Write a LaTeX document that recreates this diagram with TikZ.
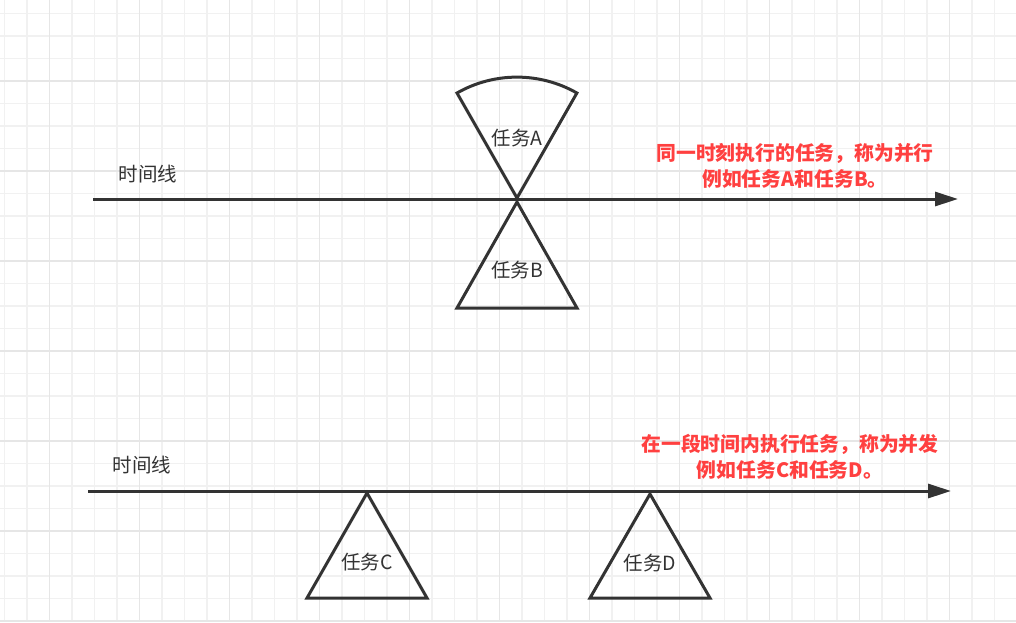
\documentclass[tikz,border=0pt]{standalone}
\usepackage{fontspec}
\setmainfont{Noto Sans CJK SC}
\usetikzlibrary{arrows.meta}
\definecolor{ink}{HTML}{333333}
\definecolor{redtxt}{HTML}{FF4040}
\definecolor{gridminor}{HTML}{F1F1F1}
\definecolor{gridmajor}{HTML}{E6E6E6}
\tikzset{
  shapeline/.style={draw=ink, line width=3pt, line join=miter},
  timeline/.style={draw=ink, line width=3pt, -{Triangle[length=23pt,width=14pt]}},
  lbl/.style={text=ink, font=\fontsize{19.5}{23}\selectfont, inner sep=0pt},
  note/.style={text=redtxt, font=\fontsize{19.8}{26}\selectfont\bfseries, inner sep=0pt, align=center},
}
\begin{document}
\begin{tikzpicture}[x=1pt,y=-1pt]
\useasboundingbox (0,0) rectangle (1016,622);
\fill[white] (0,0) rectangle (1016,622);
% grid
\foreach \k in {0,...,45} {
  \pgfmathsetmacro{\xx}{4.5+22.5*\k}
  \draw[gridminor, line width=1.2pt] (\xx,0) -- (\xx,622);
}
\foreach \k in {0,...,27} {
  \pgfmathsetmacro{\yy}{13.5+22.5*\k}
  \draw[gridminor, line width=1.2pt] (0,\yy) -- (1016,\yy);
}
\foreach \k in {0,...,10} {
  \pgfmathsetmacro{\xx}{49.5+90*\k}
  \draw[gridmajor, line width=1.2pt] (\xx,0) -- (\xx,622);
}
\foreach \k in {0,...,6} {
  \pgfmathsetmacro{\yy}{81+90*\k}
  \draw[gridmajor, line width=1.2pt] (0,\yy) -- (1016,\yy);
}
% first timeline
\coordinate (t1s) at (93,199);
\coordinate (t1e) at (958,199);
\draw[timeline] (t1s) -- (t1e);
\node[lbl] (tl1) at (148,174) {时间线};
% task A (sector) and task B (triangle)
\coordinate (apA) at (517,198);
\draw[shapeline] (apA) -- (457,93) arc[start angle=240.3, end angle=299.7, radius=121] -- cycle;
\node[lbl] (taskA) at (517,138) {任务A};
\coordinate (apB) at (517,202);
\draw[shapeline] (apB) -- (577,308) -- (457,308) -- cycle;
\node[lbl] (taskB) at (517,270) {任务B};
\node[note] (note1) at (795,166) {同一时刻执行的任务，称为并行\\例如任务A和任务B。};
% second timeline
\coordinate (t2s) at (88,491);
\coordinate (t2e) at (951,491);
\draw[timeline] (t2s) -- (t2e);
\node[lbl] (tl2) at (142,465) {时间线};
\coordinate (apC) at (367,493);
\draw[shapeline] (apC) -- (427,598) -- (307,598) -- cycle;
\node[lbl] (taskC) at (367,562) {任务C};
\coordinate (apD) at (650,494);
\draw[shapeline] (apD) -- (710,598) -- (590,598) -- cycle;
\node[lbl] (taskD) at (650,563) {任务D};
\node[note] (note2) at (790,457) {在一段时间内执行任务，称为并发\\例如任务C和任务D。};
\end{tikzpicture}
\end{document}
